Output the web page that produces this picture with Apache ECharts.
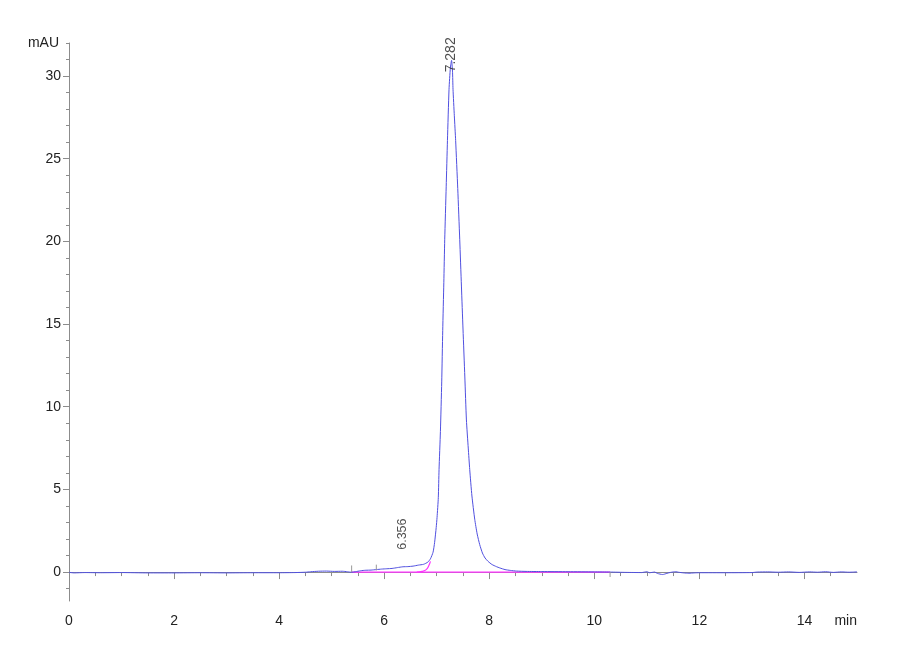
<!DOCTYPE html>
<html>
<head>
<meta charset="utf-8">
<script src="https://cdn.jsdelivr.net/npm/echarts@6/dist/echarts.min.js"></script>
<style>
html,body{margin:0;padding:0;background:#fff;}
#chart{width:900px;height:660px;}
</style>
</head>
<body>
<div id="chart"></div>
<script>
// Retention time (min)
const timeMin = [0,0.1,0.3,0.6,1.0,1.5,2.0,2.5,3.0,3.5,4.0,4.3,4.5,4.6,4.75,4.9,5.05,5.2,5.3,5.38,5.45,5.55,5.65,5.75,5.85,5.95,6.05,6.15,6.25,6.356,6.45,6.55,6.65,6.75,6.83,6.88,6.93,6.96,6.99,7.006,7.03,7.044,7.07,7.095,7.114,7.135,7.152,7.18,7.204,7.234,7.26,7.282,7.30,7.31,7.335,7.36,7.40,7.438,7.47,7.50,7.535,7.565,7.60,7.628,7.67,7.723,7.77,7.818,7.87,7.92,7.976,8.05,8.135,8.2,8.3,8.4,8.52,8.7,9.0,9.5,10.0,10.3,10.6,10.9,11.0,11.05,11.15,11.2,11.3,11.38,11.45,11.55,11.6,11.7,11.8,11.9,12.0,12.5,13.0,13.1,13.3,13.5,13.7,13.9,14.1,14.25,14.4,14.55,14.7,14.85,15.0];
// Absorbance (mAU)
const signalMAU = [-0.02,-0.05,-0.03,-0.04,-0.03,-0.05,-0.05,-0.04,-0.05,-0.04,-0.04,-0.03,-0.01,0.02,0.05,0.06,0.04,0.05,0.02,-0.01,0.02,0.08,0.11,0.12,0.15,0.18,0.2,0.22,0.27,0.32,0.33,0.36,0.42,0.47,0.6,0.8,1.2,1.8,2.7,3.3,4.5,6.2,8.5,11.5,14.6,17.5,20.1,23.3,26.1,29.2,30.5,30.95,30.3,29.2,27.6,26.1,23.2,20.1,17.3,14.7,11.8,9.2,7.5,6.2,4.6,3.2,2.3,1.66,1.15,0.85,0.65,0.46,0.33,0.25,0.15,0.1,0.06,0.04,0.03,0.02,0.01,0.0,-0.02,-0.03,0.02,-0.04,0.0,-0.08,-0.15,-0.08,-0.02,0.02,-0.01,-0.05,-0.07,-0.05,-0.04,-0.04,-0.03,0.0,0.01,-0.01,0.01,-0.02,0.01,-0.01,0.02,-0.02,0.01,-0.01,0.01];

// Integration baseline (magenta)
const baselineTime = [5.38, 10.3];
const baselineMAU = [0.0, 0.0];
const dropTime = [6.62, 6.72, 6.8, 6.85, 6.88];
const dropMAU = [0.0, 0.04, 0.15, 0.4, 0.65];

// Integration event marks: time, from, to
const eventTime = [5.38, 5.85, 10.3];
const eventFrom = [0.0, 0.1, 0.0];
const eventTo = [0.4, 0.45, -0.3];

// Peak labels
const peakTime = [6.356, 7.282];
const peakMAU = [0.32, 30.95];
const peakName = ['6.356', '7.282'];

// Axis ticks
const xLabelTicks = [0, 2, 4, 6, 8, 10, 12, 14];
const xMinorTicks = [0,0.5,1,1.5,2,2.5,3,3.5,4,4.5,5,5.5,6,6.5,7,7.5,8,8.5,9,9.5,10,10.5,11,11.5,12,12.5,13,13.5,14,14.5];
const yLabelTicks = [0, 5, 10, 15, 20, 25, 30];
const yMinorTicks = [-1,0,1,2,3,4,5,6,7,8,9,10,11,12,13,14,15,16,17,18,19,20,21,22,23,24,25,26,27,28,29,30,31,32];

// label style per peak (px)
const peakLabelGap = [17, -12];
const peakLabelSize = [12.5, 14];

const traceData = timeMin.map((t, i) => [t, signalMAU[i]]);
const baseData = baselineTime.map((t, i) => [t, baselineMAU[i]]);
const dropData = dropTime.map((t, i) => [t, dropMAU[i]]);
const eventData = eventTime.map((t, i) => [t, eventFrom[i], eventTo[i]]);
const peakData = peakTime.map((t, i) => ({value: [t, peakMAU[i], peakName[i]], label: {distance: peakLabelGap[i], fontSize: peakLabelSize[i]}}));

const axisColor = '#8c8c8c';
const font = 'Liberation Sans, Arial, sans-serif';
const XMIN = 0, XMAX = 15, YMIN = -1.75, YMAX = 32;

const chart = echarts.init(document.getElementById('chart'), null, {renderer: 'canvas'});
chart.setOption({
  animation: false,
  backgroundColor: '#ffffff',
  grid: {left: 69, right: 43, top: 43, bottom: 59},
  xAxis: [{
    type: 'value', min: XMIN, max: XMAX, position: 'bottom',
    name: 'min', nameLocation: 'end', nameGap: 0,
    nameTextStyle: {color: '#222', fontFamily: font, fontSize: 14, align: 'right', verticalAlign: 'top', padding: [42, 0, 0, 0]},
    axisLine: {show: true, lineStyle: {color: axisColor, width: 1}},
    axisTick: {show: true, customValues: xLabelTicks, length: 7, lineStyle: {color: axisColor}},
    axisLabel: {show: true, customValues: xLabelTicks, color: '#222', fontFamily: font, fontSize: 14, margin: 13},
    splitLine: {show: false}
  }, {
    type: 'value', min: XMIN, max: XMAX, position: 'bottom',
    axisLine: {show: false},
    axisTick: {show: true, customValues: xMinorTicks, length: 4, lineStyle: {color: axisColor}},
    axisLabel: {show: false},
    splitLine: {show: false}
  }],
  yAxis: [{
    type: 'value', min: YMIN, max: YMAX, position: 'left',
    name: 'mAU', nameLocation: 'end', nameGap: 0,
    nameTextStyle: {color: '#222', fontFamily: font, fontSize: 14, align: 'right', verticalAlign: 'middle', padding: [0, 10, 0, 0]},
    axisLine: {show: true, lineStyle: {color: axisColor, width: 1}},
    axisTick: {show: true, customValues: yLabelTicks, length: 6, lineStyle: {color: axisColor}},
    axisLabel: {show: true, customValues: yLabelTicks, color: '#222', fontFamily: font, fontSize: 14, margin: 8},
    splitLine: {show: false}
  }, {
    type: 'value', min: YMIN, max: YMAX, position: 'left',
    axisLine: {show: false},
    axisTick: {show: true, customValues: yMinorTicks, length: 3, lineStyle: {color: axisColor}},
    axisLabel: {show: false},
    splitLine: {show: false}
  }],
  series: [
    {
      type: 'line', data: baseData, xAxisIndex: 0, yAxisIndex: 0,
      showSymbol: false, lineStyle: {color: '#ff33ff', width: 1.2}, z: 2
    },
    {
      type: 'line', data: dropData, xAxisIndex: 0, yAxisIndex: 0, smooth: true,
      showSymbol: false, lineStyle: {color: '#ff33ff', width: 1.2}, z: 2
    },
    {
      type: 'line', data: traceData, xAxisIndex: 0, yAxisIndex: 0,
      showSymbol: false, smooth: 0.2, lineStyle: {color: '#5050e0', width: 1}, z: 3
    },
    {
      type: 'custom', xAxisIndex: 0, yAxisIndex: 0, data: eventData, z: 4,
      renderItem: function (params, api) {
        const p1 = api.coord([api.value(0), api.value(1)]);
        const p2 = api.coord([api.value(0), api.value(2)]);
        return {type: 'line', shape: {x1: p1[0], y1: p1[1], x2: p2[0], y2: p2[1]}, style: {stroke: '#999', lineWidth: 1}};
      }
    },
    {
      type: 'scatter', xAxisIndex: 0, yAxisIndex: 0, data: peakData, symbolSize: 0, z: 5,
      label: {
        show: true, position: 'top', rotate: 90, align: 'left', verticalAlign: 'middle', distance: 0,
        formatter: p => p.value[2], color: '#222', fontFamily: font, fontSize: 14
      }
    }
  ]
});
</script>
</body>
</html>
